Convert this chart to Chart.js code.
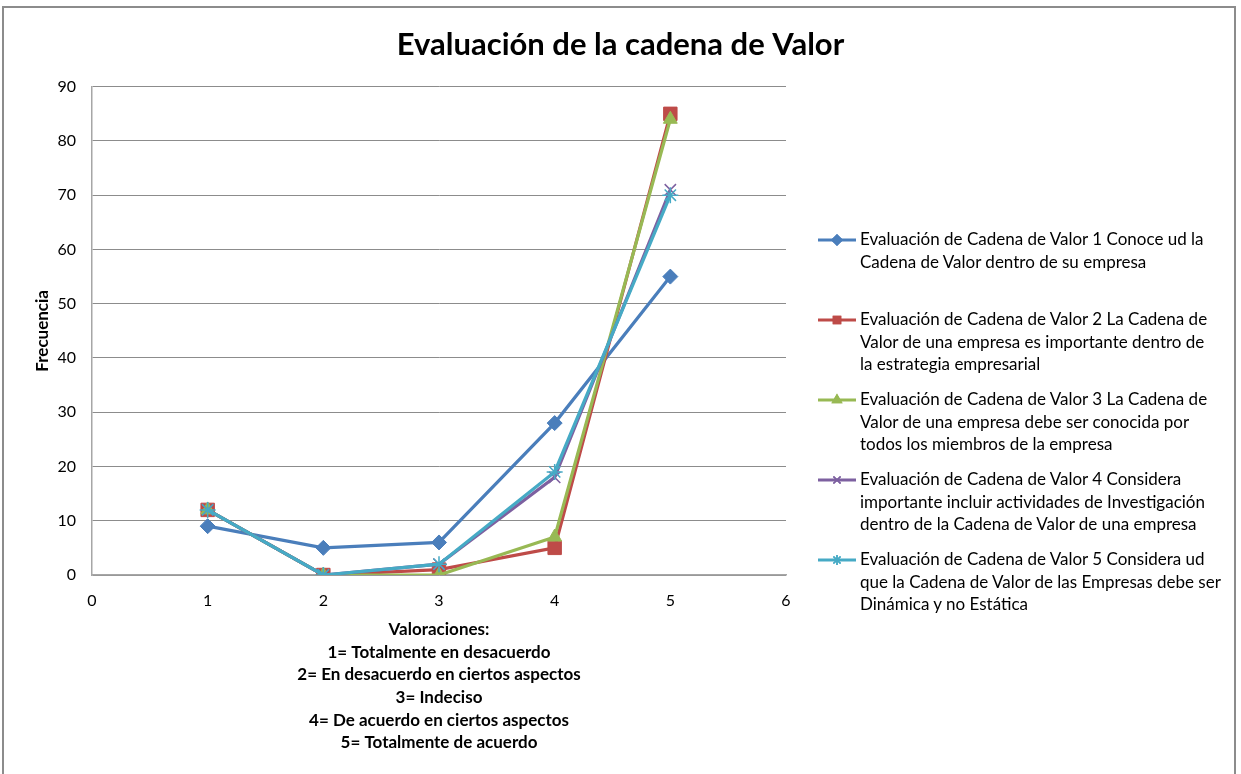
<!DOCTYPE html>
<html>
<head>
<meta charset="utf-8">
<script src="https://cdn.jsdelivr.net/npm/chart.js@4.4.1/dist/chart.umd.min.js"></script>
<style>
  html, body { margin: 0; padding: 0; background: #fff; }
  body { width: 1241px; height: 774px; position: relative; overflow: hidden; font-family: Lato, sans-serif; }
  .frame { position: absolute; left: 2px; top: 6px; width: 1234px; height: 800px; border: 2px solid #8c8c8c; box-sizing: border-box; }
  #wrap { position: absolute; left: 0; top: 0; width: 1241px; height: 774px; }
  .legend { position: absolute; left: 818px; top: 228px; margin: 0; padding: 0; list-style: none; }
  .legend li { position: relative; height: 80px; padding-left: 42px; font-size: 17px; line-height: 22.6px; color: #000; white-space: nowrap; }
  .legend li .mk { position: absolute; left: 0; top: 2px; width: 38px; height: 20px; }
</style>
</head>
<body>
<div class="frame"></div>
<div id="wrap"><canvas id="chart" width="1241" height="774"></canvas></div>
<ul class="legend" id="chart-legend"></ul>
<script>
    const xValues = [1, 2, 3, 4, 5];
    const seriesNames = [
        ['Evaluación de Cadena de Valor 1 Conoce ud la', 'Cadena de Valor dentro de su empresa'],
        ['Evaluación de Cadena de Valor 2 La Cadena de', 'Valor de una empresa es importante dentro de', 'la estrategia empresarial'],
        ['Evaluación de Cadena de Valor 3 La Cadena de', 'Valor de una empresa debe ser conocida por', 'todos los miembros de la empresa'],
        ['Evaluación de Cadena de Valor 4 Considera', 'importante incluir actividades de Investigación', 'dentro de la Cadena de Valor de una empresa'],
        ['Evaluación de Cadena de Valor 5 Considera ud', 'que la Cadena de Valor de las Empresas debe ser', 'Dinámica y no Estática']
    ];
    const serie1 = [9, 5, 6, 28, 55];
    const serie2 = [12, 0, 1, 5, 85];
    const serie3 = [12, 0, 0, 7, 84];
    const serie4 = [12, 0, 2, 18, 71];
    const serie5 = [12, 0, 2, 19, 70];
    const xTitle = [
        'Valoraciones:',
        '1= Totalmente en desacuerdo',
        '2= En desacuerdo en ciertos aspectos',
        '3= Indeciso',
        '4= De acuerdo en ciertos aspectos',
        '5= Totalmente de acuerdo'
    ];
    const colors = ['#4a7ebb', '#be4b48', '#98b954', '#7d60a0', '#46aac5'];
    const markers = ['rectRot', 'rect', 'triangle', 'crossRot', 'star'];
    const markerSizes = [7.5, 9.5, 8, 8, 8];

    const allSeries = [serie1, serie2, serie3, serie4, serie5];
    const font = 'Lato, sans-serif';

    const datasets = allSeries.map((vals, i) => ({
        label: seriesNames[i].join(' '),
        data: vals.map((v, j) => ({ x: xValues[j], y: v })),
        showLine: true,
        borderColor: colors[i],
        backgroundColor: colors[i],
        borderWidth: 3.2,
        pointStyle: markers[i],
        pointRadius: markerSizes[i],
        pointBorderColor: colors[i],
        pointBackgroundColor: colors[i],
        pointBorderWidth: (markers[i] === 'crossRot' || markers[i] === 'star') ? 1.5 : 1,
        order: 4 - i
    }));

    const ctx = document.getElementById('chart').getContext('2d');
    const myChart = new Chart(ctx, {
        type: 'scatter',
        data: { datasets: datasets },
        options: {
            responsive: false,
            animation: false,
            layout: { padding: { left: 0, right: 0, top: 0, bottom: 16 } },
            plugins: {
                legend: { display: false },
                tooltip: { enabled: false },
                title: {
                    display: true,
                    text: 'Evaluación de la cadena de Valor',
                    color: '#000',
                    font: { family: font, size: 31, weight: 'bold', lineHeight: 1.2 },
                    padding: { top: 26, bottom: 23.5 }
                }
            },
            scales: {
                x: {
                    type: 'linear',
                    min: 0,
                    max: 6,
                    ticks: { stepSize: 1, color: '#000', font: { family: font, size: 16 }, padding: 16 },
                    grid: { display: true, drawOnChartArea: false, drawTicks: false, color: '#a6a6a6' },
                    border: { color: '#a6a6a6', width: 1.5 },
                    title: {
                        display: true,
                        text: xTitle,
                        color: '#000',
                        font: { family: font, size: 17, weight: 'bold', lineHeight: 1.33 },
                        padding: { top: 4, bottom: 4 }
                    },
                    afterFit: (scale) => { scale.height = 183; }
                },
                y: {
                    min: 0,
                    max: 90,
                    ticks: { stepSize: 10, color: '#000', font: { family: font, size: 16 }, padding: 16 },
                    grid: { color: '#8c8c8c', drawTicks: false, lineWidth: 1 },
                    border: { color: '#a6a6a6', width: 1.5 },
                    title: {
                        display: true,
                        text: 'Frecuencia',
                        color: '#000',
                        font: { family: font, size: 17, weight: 'bold', lineHeight: 1.2 },
                        padding: { top: 32, bottom: 0 }
                    },
                    afterFit: (scale) => { scale.width = 92; }
                },
                // eje vacio a la derecha, deja el hueco para la leyenda
                yRight: {
                    position: 'right',
                    min: 0,
                    max: 90,
                    ticks: { display: false },
                    grid: { display: false },
                    border: { display: false },
                    afterFit: (scale) => { scale.width = 1241 - 786; }
                }
            }
        }
    });

    // legend hecha a mano para que el texto se parta en varias lineas como en Excel
    function drawMarker(c, style, color) {
        const g = c.getContext('2d');
        g.strokeStyle = color;
        g.fillStyle = color;
        g.lineWidth = 3;
        g.beginPath();
        g.moveTo(0, 10);
        g.lineTo(38, 10);
        g.stroke();
        g.lineWidth = 1.5;
        Chart.helpers.drawPoint(g, {
            pointStyle: style, radius: 5, borderWidth: 1.5, rotation: 0
        }, 19, 10);
        if (style !== 'crossRot' && style !== 'star') g.fill();
        g.stroke();
    }

    const legendEl = document.getElementById('chart-legend');
    seriesNames.forEach((lines, i) => {
        const li = document.createElement('li');
        const c = document.createElement('canvas');
        c.className = 'mk';
        c.width = 38;
        c.height = 20;
        li.appendChild(c);
        lines.forEach((t, k) => {
            li.appendChild(document.createTextNode(t));
            if (k < lines.length - 1) li.appendChild(document.createElement('br'));
        });
        legendEl.appendChild(li);
        drawMarker(c, markers[i], colors[i]);
    });
</script>
</body>
</html>
